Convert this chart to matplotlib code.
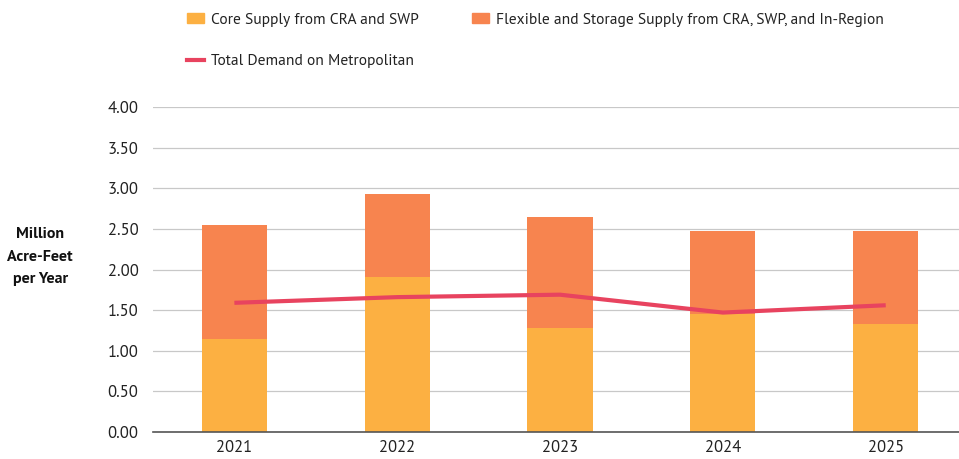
import matplotlib
matplotlib.use("Agg")
import matplotlib.pyplot as plt
from matplotlib.patches import Patch
from matplotlib.lines import Line2D

plt.rcParams['font.family'] = ['PT Sans', 'DejaVu Sans']

years = ["2021", "2022", "2023", "2024", "2025"]
core_supply = [1.15, 1.91, 1.28, 1.45, 1.33]
total_supply = [2.55, 2.93, 2.65, 2.47, 2.47]
flexible_supply = [t - c for t, c in zip(total_supply, core_supply)]
demand = [1.59, 1.66, 1.69, 1.47, 1.56]
y_ticks = [0.0, 0.5, 1.0, 1.5, 2.0, 2.5, 3.0, 3.5, 4.0]

C_CORE = "#FCB042"
C_FLEX = "#F7844F"
C_LINE = "#E8435F"

fig = plt.figure(figsize=(9.59, 4.59), dpi=100)
ax = fig.add_axes([0.1595, 0.0588, 0.8405, 0.7081])

x = list(range(len(years)))
ax.bar(x, core_supply, width=0.4, color=C_CORE, zorder=2)
ax.bar(x, flexible_supply, width=0.4, bottom=core_supply, color=C_FLEX, zorder=2)
ax.plot(x, demand, color=C_LINE, lw=3, zorder=3, solid_capstyle='butt')

ax.set_xlim(-0.5, 4.45)
ax.set_ylim(0, 4.0)
ax.set_yticks(y_ticks)
ax.set_yticklabels([f"{v:.2f}" for v in y_ticks], fontsize=12, color='#222222')
ax.set_xticks(x)
ax.set_xticklabels(years, fontsize=12, color='#222222')
ax.tick_params(axis='y', length=0, pad=10.5)
ax.tick_params(axis='x', length=0, pad=6)
ax.grid(axis='y', color='#c8c8c8', lw=0.9, zorder=0)
for s in ['top', 'right', 'left']:
    ax.spines[s].set_visible(False)
ax.spines['bottom'].set_color('#555555')
ax.spines['bottom'].set_linewidth(1.2)
ax.spines['bottom'].set_zorder(4)

fig.text(0.042, 0.441, "Million\nAcre-Feet\nper Year", ha='center', va='center',
         fontsize=11.5, fontweight='bold', linespacing=1.75, color='#111111')

handles = [Patch(color=C_CORE), Line2D([], [], color=C_LINE, lw=3),
           Patch(color=C_FLEX)]
labels = ["Core Supply from CRA and SWP", "Total Demand on Metropolitan",
          "Flexible and Storage Supply from CRA, SWP, and In-Region"]
fig.legend(handles, labels, ncol=2, loc='upper left', bbox_to_anchor=(0.195, 0.972),
           frameon=False, fontsize=11.2, handlelength=1.1, handleheight=0.6,
           handletextpad=0.45, columnspacing=3.4, labelspacing=1.75,
           borderpad=0, borderaxespad=0, labelcolor='#222222')

fig.savefig("out.png", dpi=100)
